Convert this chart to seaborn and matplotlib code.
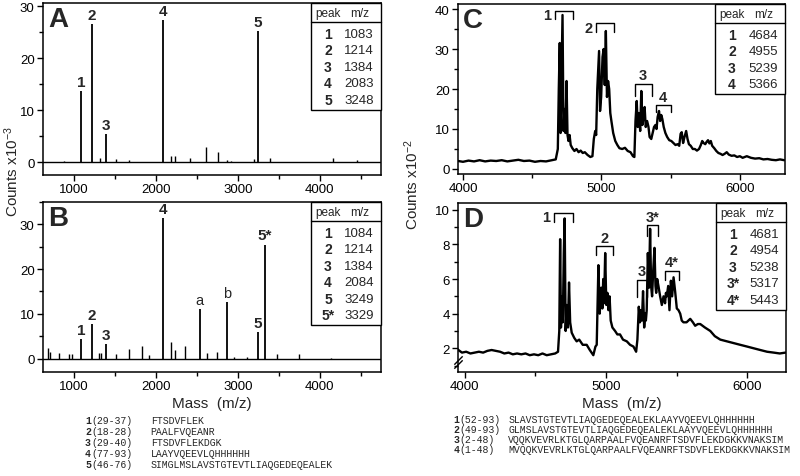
import matplotlib

matplotlib.use("Agg")

import matplotlib.pyplot as plt
import seaborn as sns
from matplotlib.patches import Rectangle
from matplotlib.ticker import FuncFormatter, MultipleLocator
from matplotlib.transforms import ScaledTranslation

# ---- panel A: stick spectrum (mass, counts x1e-3) ----
a_peak_mz = [1083, 1214, 1384, 2083, 3248]
a_peak_h = [13.7, 26.6, 5.3, 27.4, 25.2]
a_peak_lbl = ["1", "2", "3", "4", "5"]
a_minor_mz = [871, 1314, 1509, 1672, 2189, 2230, 2416, 2616, 2754, 2872, 2920, 3200, 3390, 4166, 4460]
a_minor_h = [0.2, 0.7, 0.6, 0.3, 1.1, 1.1, 0.7, 2.8, 2.0, 0.3, 0.2, 0.5, 0.8, 0.8, 0.4]
a_table_ids = ["1", "2", "3", "4", "5"]
a_table_mz = ["1083", "1214", "1384", "2083", "3248"]

# ---- panel B ----
b_peak_mz = [1084, 1214, 1384, 2084, 2535, 2868, 3249, 3329]
b_peak_h = [4.3, 7.8, 3.2, 31.5, 11.0, 12.7, 5.9, 25.5]
b_peak_lbl = ["1", "2", "3", "4", "a", "b", "5", "5*"]
b_peak_bold = [True, True, True, True, False, False, True, True]
b_minor_mz = [675, 700, 817, 936, 980, 1300, 1330, 1517, 1672, 1835, 1916, 2189, 2230, 2352,
              2629, 2751, 2950, 3117, 3475, 3748, 4135]
b_minor_h = [2.4, 1.5, 1.3, 1.0, 1.0, 1.2, 1.2, 1.0, 2.2, 2.8, 0.8, 3.6, 2.0, 2.8,
             1.2, 1.5, 0.3, 0.3, 1.0, 1.0, 0.2]
b_table_ids = ["1", "2", "3", "4", "5", "5*"]
b_table_mz = ["1084", "1214", "1384", "2084", "3249", "3329"]

# ---- panel C: continuous spectrum (mass, counts x1e-2) ----
c_mass = [3965, 4000, 4040, 4080, 4120, 4160, 4200, 4240, 4280, 4320, 4360, 4400, 4440, 4480,
          4520, 4560, 4600, 4640, 4670, 4685, 4692, 4699, 4705, 4712, 4719, 4726, 4733, 4740,
          4748, 4755, 4762, 4770, 4778, 4790, 4805, 4820, 4835, 4850, 4865, 4880, 4900, 4920,
          4935, 4945, 4955, 4962, 4970, 4983, 4990, 4998, 5008, 5016, 5024, 5032, 5040, 5048,
          5056, 5064, 5072, 5085, 5100, 5115, 5130, 5150, 5170, 5190, 5210, 5228, 5238, 5246,
          5255, 5262, 5270, 5280, 5288, 5296, 5304, 5312, 5320, 5330, 5340, 5348, 5360, 5370,
          5380, 5390, 5398, 5406, 5416, 5424, 5432, 5440, 5450, 5462, 5475, 5490, 5505, 5520,
          5535, 5550, 5562, 5572, 5580, 5590, 5600, 5612, 5622, 5632, 5645, 5660, 5675, 5690,
          5705, 5718, 5728, 5738, 5750, 5760, 5770, 5780, 5790, 5800, 5815, 5830, 5845, 5860,
          5875, 5890, 5905, 5920, 5940, 5960, 5980, 6000, 6020, 6050, 6080, 6110, 6140, 6170,
          6200, 6230, 6260, 6290, 6320]
c_counts = [2.0, 1.8, 2.1, 1.9, 2.2, 1.9, 2.1, 2.0, 2.2, 1.9, 2.1, 2.3, 2.0, 2.1,
            1.8, 2.0, 1.9, 2.2, 2.4, 5.0, 20.0, 31.5, 9.0, 24.0, 38.5, 9.5, 15.0, 9.0,
            22.0, 8.5, 7.0, 8.5, 6.0, 5.2, 4.5, 5.0, 4.2, 4.6, 4.0, 4.2, 3.5, 3.0,
            3.2, 7.5, 9.5, 8.5, 20.0, 29.5, 14.5, 18.0, 28.0, 30.0, 21.0, 34.5, 18.0, 22.0,
            20.0, 14.0, 12.0, 9.0, 7.0, 6.0, 5.2, 5.0, 5.3, 4.5, 4.2, 3.2, 3.0, 12.0,
            17.0, 10.5, 14.0, 9.5, 19.5, 11.0, 13.0, 15.5, 10.5, 12.0, 10.5, 8.0, 7.5, 9.0,
            10.5, 11.0, 10.0, 13.0, 14.5, 12.0, 13.5, 12.5, 10.5, 9.0, 8.0, 7.2, 7.0, 6.5,
            6.0, 6.2, 5.8, 8.8, 9.2, 6.5, 8.0, 9.5, 7.5, 6.2, 5.8, 5.0, 5.0, 4.6,
            5.0, 6.0, 7.0, 6.5, 6.2, 6.8, 7.2, 6.4, 7.0, 5.8, 5.2, 4.5, 4.0, 3.8,
            3.5, 3.8, 4.2, 3.6, 3.3, 3.4, 3.0, 3.2, 2.8, 3.2, 2.8, 2.6, 2.7, 2.4,
            2.5, 2.3, 2.2, 2.4, 2.2]
c_br_lbl = ["1", "2", "3", "4"]
c_br_start = [4668, 4964, 5239, 5391]
c_br_end = [4796, 5092, 5362, 5499]
c_br_top = [39.4, 36.4, 21.3, 16.0]
c_br_drop = [1.9, 2.2, 3.0, 1.8]
c_br_side = ["left", "left", "top", "top"]
c_table_ids = ["1", "2", "3", "4"]
c_table_mz = ["4684", "4955", "5239", "5366"]

# ---- panel D ----
d_mass = [3955, 3980, 4010, 4040, 4070, 4100, 4130, 4160, 4190, 4220, 4250, 4280, 4310, 4340,
          4370, 4400, 4430, 4460, 4490, 4520, 4550, 4580, 4610, 4640, 4660, 4669, 4675, 4681,
          4688, 4694, 4701, 4707, 4714, 4722, 4730, 4738, 4746, 4757, 4775, 4792, 4810, 4835,
          4863, 4885, 4910, 4925, 4934, 4946, 4955, 4966, 4974, 4980, 4986, 4994, 5002, 5010,
          5017, 5025, 5033, 5045, 5064, 5080, 5099, 5120, 5147, 5170, 5194, 5213, 5222, 5232,
          5240, 5246, 5254, 5262, 5270, 5277, 5282, 5288, 5296, 5304, 5312, 5319, 5326, 5334,
          5343, 5350, 5355, 5362, 5371, 5383, 5395, 5407, 5418, 5424, 5430, 5440, 5449, 5459,
          5468, 5478, 5489, 5501, 5513, 5525, 5536, 5548, 5570, 5596, 5615, 5631, 5650, 5667,
          5700, 5738, 5770, 5809, 5856, 5903, 5950, 5998, 6045, 6092, 6140, 6187, 6230, 6270]
d_counts = [1.9, 1.75, 1.8, 1.7, 1.75, 1.8, 1.75, 1.85, 1.9, 1.85, 1.8, 1.7, 1.75, 1.65,
            1.7, 1.65, 1.7, 1.6, 1.65, 1.6, 1.7, 1.6, 1.65, 1.7, 1.8, 3.0, 8.3, 3.2,
            5.0, 3.5, 7.5, 9.5, 3.0, 4.5, 3.2, 5.8, 3.5, 2.9, 2.6, 2.4, 2.5, 2.2,
            2.2, 1.9, 1.6, 2.1, 2.2, 6.8, 4.0, 5.5, 4.3, 6.0, 4.6, 7.5, 4.5, 5.2,
            4.2, 5.0, 3.6, 3.2, 3.0, 2.8, 2.8, 2.5, 2.4, 2.2, 2.1, 1.8, 2.5, 4.4,
            3.5, 4.2, 3.6, 5.3, 3.2, 4.0, 3.6, 4.2, 7.5, 5.5, 8.9, 5.6, 5.0, 6.5,
            7.8, 5.6, 5.2, 6.0, 5.6, 5.0, 4.5, 5.0, 4.6, 5.2, 5.0, 5.6, 4.2, 5.9,
            5.0, 6.1, 5.3, 4.3, 4.2, 4.0, 3.6, 3.5, 3.5, 3.7, 3.5, 3.3, 3.4, 3.4,
            3.2, 3.0, 2.7, 2.5, 2.4, 2.3, 2.2, 2.1, 2.0, 1.9, 1.8, 1.75, 1.7, 1.75]
d_br_lbl = ["1", "2", "3", "3*", "4*"]
d_br_start = [4634, 4927, 5222, 5288, 5418]
d_br_end = [4764, 5052, 5288, 5366, 5513]
d_br_top = [9.84, 7.91, 5.95, 9.11, 6.47]
d_br_drop = [0.57, 0.5, 1.0, 0.6, 0.5]
d_br_side = ["left", "top", "top", "top", "top"]
d_table_ids = ["1", "2", "3", "3*", "4*"]
d_table_mz = ["4681", "4954", "5238", "5317", "5443"]

# ---- peptide sequences ----
left_ids = ["1", "2", "3", "4", "5"]
left_ranges = ["(29-37)", "(18-28)", "(29-40)", "(77-93)", "(46-76)"]
left_seqs = ["FTSDVFLEK", "PAALFVQEANR", "FTSDVFLEKDGK", "LAAYVQEEVLQHHHHHH",
             "SIMGLMSLAVSTGTEVTLIAQGEDEQEALEK"]
right_ids = ["1", "2", "3", "4"]
right_ranges = ["(52-93)", "(49-93)", "(2-48)", "(1-48)"]
right_seqs = ["SLAVSTGTEVTLIAQGEDEQEALEKLAAYVQEEVLQHHHHHH",
              "GLMSLAVSTGTEVTLIAQGEDEQEALEKLAAYVQEEVLQHHHHHH",
              "VQQKVEVRLKTGLQARPAALFVQEANRFTSDVFLEKDGKKVNAKSIM",
              "MVQQKVEVRLKTGLQARPAALFVQEANRFTSDVFLEKDGKKVNAKSIM"]

sns.set_theme(style="ticks")
plt.rcParams["font.family"] = ["Liberation Sans", "DejaVu Sans"]
plt.rcParams["mathtext.default"] = "regular"
plt.rcParams["axes.edgecolor"] = "black"
plt.rcParams["axes.linewidth"] = 1.1

W, H = 800, 477
fig = plt.figure(figsize=(W / 100, H / 100), dpi=100)


def px_axes(left, top, right, bottom):
    return fig.add_axes([left / W, 1 - bottom / H, (right - left) / W, (bottom - top) / H])


def style_axis(ax, xmajor, xminor, ymajor, yminor):
    ax.xaxis.set_major_locator(MultipleLocator(xmajor))
    ax.xaxis.set_minor_locator(MultipleLocator(xminor))
    ax.yaxis.set_major_locator(MultipleLocator(ymajor))
    ax.yaxis.set_minor_locator(MultipleLocator(yminor))
    ax.xaxis.set_major_formatter(FuncFormatter(lambda v, _: f"{v:.0f}"))
    ax.yaxis.set_major_formatter(FuncFormatter(lambda v, _: f"{v:.0f}"))
    ax.tick_params(which="both", direction="out", colors="black", labelsize=9.5,
                   top=False, right=False, pad=2, width=1)
    ax.tick_params(which="major", length=4)
    ax.tick_params(which="minor", length=3)
    for sp in ax.spines.values():
        sp.set_visible(True)
        sp.set_color("black")
    ax.set_xlabel("")
    ax.set_ylabel("")


def panel_letter(ax, letter):
    ax.annotate(letter, xy=(0, 1), xycoords="axes fraction", xytext=(5, -3),
                textcoords="offset pixels", ha="left", va="top",
                fontsize=20, fontweight="bold")


def draw_table(ax, ids, values):
    corner = fig.dpi_scale_trans + ScaledTranslation(1, 1, ax.transAxes)
    p = 1 / fig.dpi
    row0, step = 31, 16.4
    bottom = row0 + step * (len(ids) - 1) + 10
    ax.add_patch(Rectangle((-70 * p, -bottom * p), 70 * p, bottom * p, transform=corner,
                           fill=True, facecolor="white", edgecolor="black", lw=1.0,
                           clip_on=False, zorder=5))
    ax.plot([-70 * p, 0], [-18.5 * p, -18.5 * p], transform=corner, color="black",
            lw=1.0, clip_on=False, zorder=6)
    ax.text(-53 * p, -10 * p, "peak", transform=corner, ha="center", va="center",
            fontsize=8.5, zorder=7)
    ax.text(-21 * p, -10 * p, "m/z", transform=corner, ha="center", va="center",
            fontsize=8.5, zorder=7)
    for i, (pid, val) in enumerate(zip(ids, values)):
        y = -(row0 + step * i) * p
        ax.text(-53 * p, y, pid, transform=corner, ha="center", va="center",
                fontsize=10, fontweight="bold", zorder=7)
        ax.text(-7 * p, y, val, transform=corner, ha="right", va="center",
                fontsize=9.5, zorder=7)


def draw_brackets(ax, lbls, starts, ends, tops, drops, sides):
    for lbl, x0, x1, yt, dy, side in zip(lbls, starts, ends, tops, drops, sides):
        ax.plot([x0, x0, x1, x1], [yt - dy, yt, yt, yt - dy], color="black", lw=1.0)
        if side == "left":
            ax.annotate(lbl, xy=(x0, yt - dy / 2), xytext=(-3, 0), textcoords="offset points",
                        ha="right", va="center", fontsize=10.5, fontweight="bold")
        else:
            ax.annotate(lbl, xy=((x0 + x1) / 2, yt), xytext=(0, 1), textcoords="offset points",
                        ha="center", va="bottom", fontsize=10.5, fontweight="bold")


def stick_panel(ax, peak_mz, peak_h, minor_mz, minor_h, lbls, bold):
    ax.axhline(0, color="black", lw=1.0)
    ax.vlines(minor_mz, 0, minor_h, color="black", lw=1.0)
    ax.vlines(peak_mz, 0, peak_h, color="black", lw=1.3)
    for x, h, lbl, b in zip(peak_mz, peak_h, lbls, bold):
        ax.annotate(lbl, xy=(x, h), xytext=(0, 1.5), textcoords="offset points",
                    ha="center", va="bottom", fontsize=11 if b else 10.5,
                    fontweight="bold" if b else "normal")


# panel A
ax_a = px_axes(43, 4, 381, 176)
stick_panel(ax_a, a_peak_mz, a_peak_h, a_minor_mz, a_minor_h, a_peak_lbl, [True] * 5)
ax_a.set_xlim(620, 4750)
ax_a.set_ylim(-2.5, 30.6)
style_axis(ax_a, 1000, 500, 10, 5)
panel_letter(ax_a, "A")
draw_table(ax_a, a_table_ids, a_table_mz)

# panel B
ax_b = px_axes(43, 203, 381, 373)
stick_panel(ax_b, b_peak_mz, b_peak_h, b_minor_mz, b_minor_h, b_peak_lbl, b_peak_bold)
ax_b.set_xlim(620, 4750)
ax_b.set_ylim(-3, 35)
style_axis(ax_b, 1000, 500, 10, 5)
panel_letter(ax_b, "B")
draw_table(ax_b, b_table_ids, b_table_mz)
ax_b.set_xlabel("Mass  (m/z)", fontsize=11, labelpad=3)

# panel C
ax_c = px_axes(458, 5, 785, 175)
sns.lineplot(x=c_mass, y=c_counts, ax=ax_c, color="black", lw=1.7, sort=False, estimator=None)
draw_brackets(ax_c, c_br_lbl, c_br_start, c_br_end, c_br_top, c_br_drop, c_br_side)
ax_c.set_xlim(3964, 6326)
ax_c.set_ylim(-1.25, 41.25)
style_axis(ax_c, 1000, 500, 10, 5)
panel_letter(ax_c, "C")
draw_table(ax_c, c_table_ids, c_table_mz)

# panel D
ax_d = px_axes(458, 204, 786, 373)
sns.lineplot(x=d_mass, y=d_counts, ax=ax_d, color="black", lw=1.7, sort=False, estimator=None)
draw_brackets(ax_d, d_br_lbl, d_br_start, d_br_end, d_br_top, d_br_drop, d_br_side)
ax_d.set_xlim(3952, 6274)
ax_d.set_ylim(0.63, 10.39)
style_axis(ax_d, 1000, 500, 2, 1)
panel_letter(ax_d, "D")
draw_table(ax_d, d_table_ids, d_table_mz)
ax_d.set_xlabel("Mass  (m/z)", fontsize=11, labelpad=3)
# axis break on the y axis
for yb in (0.045, 0.07):
    ax_d.plot([0], [yb], transform=ax_d.transAxes, marker=[(-1, -1), (1, 1)],
              markersize=6, color="black", mew=1.0, clip_on=False)

fig.text(12 / W, 1 - 172 / H, "Counts x10$^{-3}$", rotation=90, ha="center", va="center",
         fontsize=11)
fig.text(412 / W, 1 - 185 / H, "Counts x10$^{-2}$", rotation=90, ha="center", va="center",
         fontsize=11)

# peptide sequence lists
mono = ["Liberation Mono", "DejaVu Sans Mono"]
fs_seq = 7.1
cw = fs_seq * 0.6 * 100 / 72
for i, (pid, rng, seq) in enumerate(zip(left_ids, left_ranges, left_seqs)):
    y = 1 - (421.5 + 11 * i) / H
    fig.text(85 / W, y, pid, family=mono, fontsize=fs_seq, fontweight="bold", va="center")
    fig.text((85 + cw) / W, y, rng, family=mono, fontsize=fs_seq, va="center")
    fig.text(150.7 / W, y, seq, family=mono, fontsize=fs_seq, va="center")
for i, (pid, rng, seq) in enumerate(zip(right_ids, right_ranges, right_seqs)):
    y = 1 - (420 + 10 * i) / H
    fig.text(453.3 / W, y, pid, family=mono, fontsize=fs_seq, fontweight="bold", va="center")
    fig.text((453.3 + cw) / W, y, rng, family=mono, fontsize=fs_seq, va="center")
    fig.text(508.3 / W, y, seq, family=mono, fontsize=fs_seq, va="center")

fig.savefig("out.png", dpi=100, facecolor="white")
